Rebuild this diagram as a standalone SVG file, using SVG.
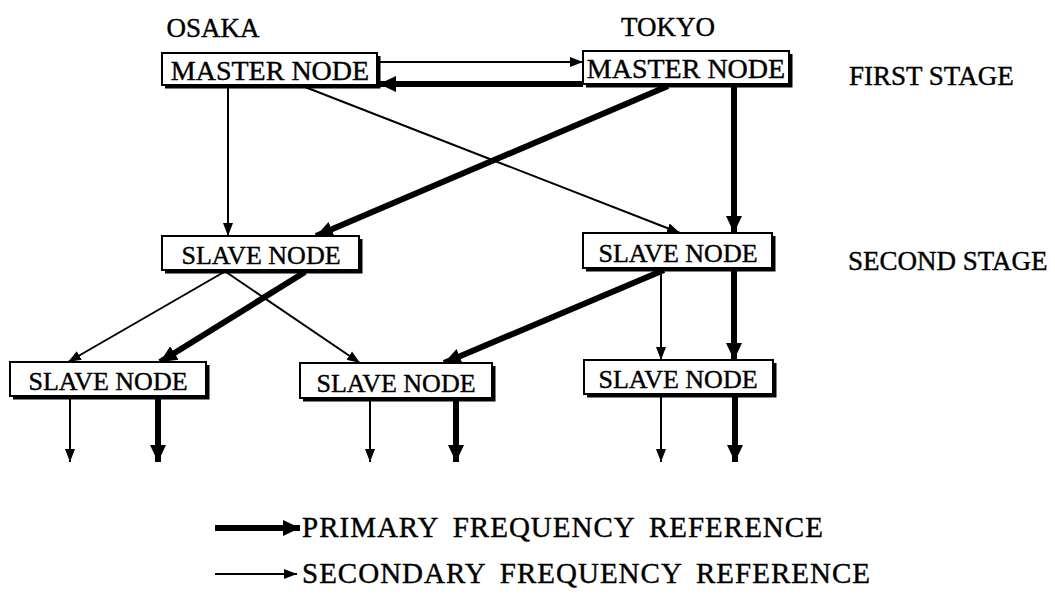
<svg xmlns="http://www.w3.org/2000/svg" width="1055" height="599" viewBox="0 0 1055 599">
<style>
text{font-family:"Liberation Serif","Times New Roman",serif;fill:#000;stroke:#000;stroke-width:0.4}
.lbl{font-size:27px}
.nt{font-size:26px;text-anchor:middle}
.leg{font-size:29px;word-spacing:6px;letter-spacing:1px}
.box{fill:#fff;stroke:#000;stroke-width:2}
.sh{fill:none;stroke:#000;stroke-width:3}
.thin{stroke:#000;stroke-width:2;fill:none;marker-end:url(#ah)}
.thick{stroke:#000;stroke-width:6;fill:none;marker-end:url(#AH)}
</style>
<defs>
<marker id="ah" markerUnits="userSpaceOnUse" markerWidth="14" markerHeight="12" refX="13" refY="6" orient="auto"><path d="M0,1 L13,6 L0,11 Z" fill="#000"/></marker>
<marker id="AH" markerUnits="userSpaceOnUse" markerWidth="18" markerHeight="18" refX="17" refY="9" orient="auto"><path d="M0,1 L17,9 L0,17 Z" fill="#000"/></marker>
</defs>
<rect width="1055" height="599" fill="#fff"/>
<g id="labels">
<text class="lbl" x="213" y="37" text-anchor="middle">OSAKA</text>
<text class="lbl" x="668" y="36" text-anchor="middle">TOKYO</text>
<text class="lbl" x="849" y="85">FIRST STAGE</text>
<text class="lbl" x="848" y="270">SECOND STAGE</text>
</g>
<g id="connectors">
<line class="thin" x1="378" y1="62" x2="583" y2="62"/>
<line class="thick" x1="583" y1="84" x2="379" y2="84"/>
<line class="thin" x1="228" y1="87" x2="228" y2="236"/>
<line class="thin" x1="305" y1="87" x2="680" y2="233"/>
<line class="thick" x1="734" y1="86" x2="734" y2="233"/>
<line class="thick" x1="668" y1="86" x2="316" y2="236"/>
<line class="thin" x1="224" y1="272" x2="68" y2="362"/>
<line class="thin" x1="226" y1="272" x2="360" y2="363"/>
<line class="thick" x1="305" y1="272" x2="160" y2="362"/>
<line class="thick" x1="664" y1="270" x2="444" y2="363"/>
<line class="thin" x1="661" y1="270" x2="661" y2="360"/>
<line class="thick" x1="734" y1="270" x2="734" y2="360"/>
<line class="thin" x1="70" y1="398" x2="70" y2="462"/>
<line class="thick" x1="158" y1="398" x2="158" y2="462"/>
<line class="thin" x1="370" y1="400" x2="370" y2="462"/>
<line class="thick" x1="456" y1="400" x2="456" y2="462"/>
<line class="thin" x1="661" y1="395" x2="661" y2="462"/>
<line class="thick" x1="735" y1="395" x2="735" y2="462"/>
</g>
<g id="osaka-master">
<rect class="box" x="162" y="53" width="215" height="32"/>
<polyline class="sh" points="165,87 379,87 379,56"/>
<text class="nt" x="270" y="80" style="font-size:28px">MASTER NODE</text>
</g>
<g id="tokyo-master">
<rect class="box" x="583" y="51" width="206" height="33"/>
<polyline class="sh" points="586,86 791,86 791,54"/>
<text class="nt" x="686" y="78" style="font-size:28px">MASTER NODE</text>
</g>
<g id="osaka-slave">
<rect class="box" x="162" y="236" width="197" height="34"/>
<polyline class="sh" points="165,272 361,272 361,239"/>
<text class="nt" x="261" y="264">SLAVE NODE</text>
</g>
<g id="tokyo-slave">
<rect class="box" x="583" y="233" width="189" height="35"/>
<polyline class="sh" points="586,270 774,270 774,236"/>
<text class="nt" x="678" y="262">SLAVE NODE</text>
</g>
<g id="slave-left">
<rect class="box" x="10" y="362" width="196" height="34"/>
<polyline class="sh" points="13,398 208,398 208,365"/>
<text class="nt" x="108" y="390">SLAVE NODE</text>
</g>
<g id="slave-middle">
<rect class="box" x="300" y="363" width="192" height="35"/>
<polyline class="sh" points="303,400 494,400 494,366"/>
<text class="nt" x="396" y="392">SLAVE NODE</text>
</g>
<g id="slave-right">
<rect class="box" x="584" y="360" width="189" height="34"/>
<polyline class="sh" points="587,396 775,396 775,363"/>
<text class="nt" x="678" y="388">SLAVE NODE</text>
</g>
<g id="legend">
<line class="thick" x1="215" y1="528" x2="300" y2="528"/>
<text class="leg" x="302" y="537">PRIMARY FREQUENCY REFERENCE</text>
<line class="thin" x1="215" y1="574" x2="297" y2="574"/>
<text class="leg" x="302" y="583">SECONDARY FREQUENCY REFERENCE</text>
</g>
</svg>
